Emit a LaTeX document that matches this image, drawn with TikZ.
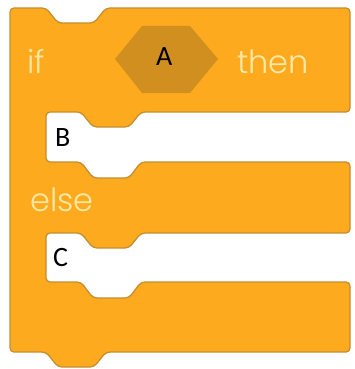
\documentclass[tikz,border=0pt]{standalone}
\usepackage{fontspec}
\newfontfamily\blockfont{Poppins}[UprightFont=* Light]
\newfontfamily\labfont{Carlito}
\definecolor{blockorange}{RGB}{254,170,30}
\definecolor{blockedge}{RGB}{196,143,48}
\definecolor{hexfill}{RGB}{208,143,30}
\definecolor{wordcol}{RGB}{253,232,165}
\tikzset{
  block/.style={fill=blockorange, draw=blockedge, line width=1.3pt, rounded corners=4pt, line join=round},
  hexa/.style={fill=hexfill, draw=none},
  word/.style={anchor=base west, inner sep=0pt, text=wordcol, font=\blockfont\fontsize{32}{32}\selectfont},
  lab/.style={anchor=base west, inner sep=0pt, text=black, font=\labfont\fontsize{28}{28}\selectfont}
}
\begin{document}
\begin{tikzpicture}[x=1pt, y=-1pt]
\useasboundingbox[fill=white] (0,0) rectangle (355,369);
% C-shaped if/else block
\draw[block] (10,8) -- (46,8) -- (58,23) -- (94,23) -- (106,8) -- (350,8)
  -- (350,112) -- (141,112) -- (129,127) -- (93,127) -- (81,112) -- (46,112)
  -- (46,162) -- (81,162) -- (93,178) -- (129,178) -- (141,162) -- (350,162)
  -- (350,233) -- (141,233) -- (129,248) -- (93,248) -- (81,233) -- (46,233)
  -- (46,282) -- (81,282) -- (93,298) -- (129,298) -- (141,282) -- (350,282)
  -- (350,352) -- (106,352) -- (94,367) -- (58,367) -- (46,352) -- (10,352) -- cycle;
% condition slot
\fill[hexa] (115,59) -- (142,26) -- (190,26) -- (218,59) -- (190,93) -- (142,93) -- cycle;
\node[lab] (A) at (156,66) {A};
\node[word] (if) at (27,73) {if};
\node[word] (then) at (237,73) {then};
\node[word] (else) at (30,211) {else};
\node[lab] (B) at (55,146) {B};
\node[lab] (C) at (53,266) {C};
\end{tikzpicture}
\end{document}
